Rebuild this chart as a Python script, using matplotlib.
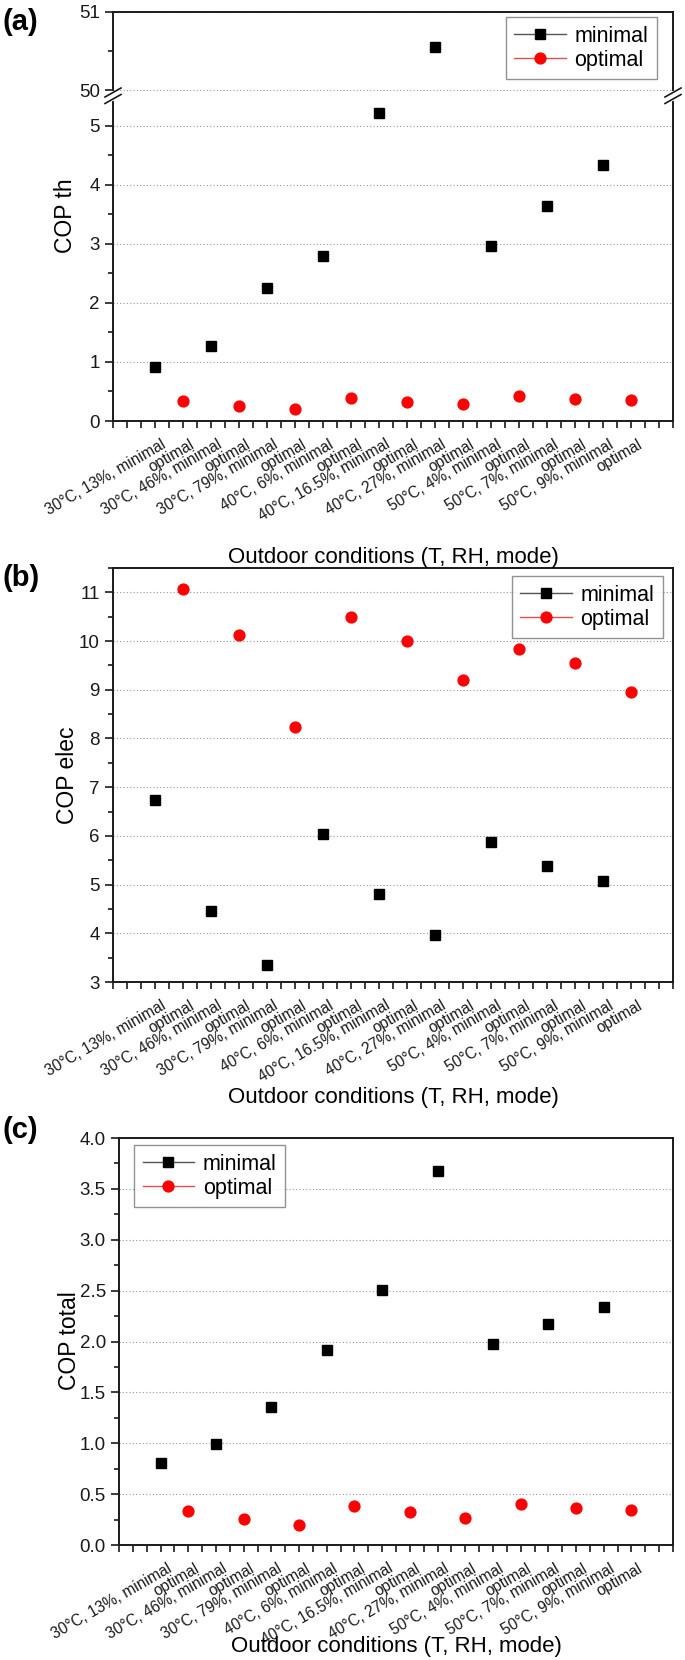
import numpy as np
import matplotlib
matplotlib.use("Agg")
import matplotlib.pyplot as plt
import matplotlib.transforms as mtransforms
from matplotlib.lines import Line2D
from matplotlib.ticker import MultipleLocator, FormatStrFormatter

plt.rcParams['font.family'] = ['Liberation Sans', 'DejaVu Sans']

# outdoor conditions, each one run in "minimal" and "optimal" mode
conditions = ['30°C, 13%', '30°C, 46%', '30°C, 79%',
              '40°C, 6%', '40°C, 16.5%', '40°C, 27%',
              '50°C, 4%', '50°C, 7%', '50°C, 9%']

cop_th_minimal = [0.92, 1.27, 2.26, 2.80, 5.21, 50.55, 2.97, 3.64, 4.33]
cop_th_optimal = [0.34, 0.26, 0.21, 0.39, 0.33, 0.28, 0.42, 0.37, 0.35]

cop_elec_minimal = [6.73, 4.45, 3.35, 6.04, 4.81, 3.97, 5.88, 5.38, 5.08]
cop_elec_optimal = [11.06, 10.12, 8.24, 10.49, 10.01, 9.21, 9.83, 9.55, 8.95]

cop_total_minimal = [0.81, 0.99, 1.36, 1.92, 2.51, 3.68, 1.98, 2.17, 2.34]
cop_total_optimal = [0.33, 0.26, 0.20, 0.38, 0.32, 0.27, 0.40, 0.36, 0.34]

tick_labels = []
for c in conditions:
    tick_labels += [c + ', minimal', 'optimal']

n = len(conditions)
x_min = np.arange(n) * 2 + 1
x_opt = np.arange(n) * 2 + 2
x_all = np.arange(1, 2 * n + 1)

W, H = 685, 1660
fig = plt.figure(figsize=(W / 100, H / 100), dpi=100)
shift = mtransforms.ScaledTranslation(6 / 100, -4 / 100, fig.dpi_scale_trans)


def box(left, top, right, bottom):
    return [left / W, 1 - bottom / H, (right - left) / W, (bottom - top) / H]


def style(ax, xlabels=True):
    for s in ax.spines.values():
        s.set_linewidth(1.4)
        s.set_color('#1a1a1a')
    ax.tick_params(axis='both', which='both', direction='out', top=False, right=False,
                   labelsize=13.5, colors='#1a1a1a')
    ax.tick_params(axis='y', which='major', length=6, width=1.2)
    ax.tick_params(axis='y', which='minor', length=3.5, width=1.2)
    ax.tick_params(axis='x', which='both', length=5, width=1.2)
    ax.set_xlim(-0.5, 2 * n + 1.5)
    ax.xaxis.set_minor_locator(MultipleLocator(0.5))
    ax.set_xticks(x_all)
    if xlabels:
        ax.set_xticklabels(tick_labels, rotation=30, ha='right', va='top',
                           rotation_mode='anchor', fontsize=11.2)
        for lab in ax.get_xticklabels():
            lab.set_transform(lab.get_transform() + shift)
    else:
        ax.set_xticklabels([])
    ax.grid(axis='y', which='major', linestyle=(0, (1, 2)), color='#999999', linewidth=0.8)
    ax.set_axisbelow(True)


def points(ax, ymin, yopt):
    ax.plot(x_min, ymin, linestyle='none', marker='s', color='black', markersize=6.8)
    ax.plot(x_opt, yopt, linestyle='none', marker='o', color='#ff0000', markersize=7.8)


def add_legend(ax, loc, anchor):
    handles = [Line2D([], [], color='#555555', lw=1, marker='s', markersize=6.8,
                      markerfacecolor='black', markeredgecolor='black'),
               Line2D([], [], color='#e05050', lw=1, marker='o', markersize=7.8,
                      markerfacecolor='#ff0000', markeredgecolor='#ff0000')]
    leg = ax.legend(handles, ['minimal', 'optimal'], loc=loc, bbox_to_anchor=anchor,
                    fontsize=15.5, frameon=True, fancybox=False, edgecolor='#777777',
                    handlelength=2.4, handletextpad=0.4, labelspacing=0.15,
                    borderpad=0.4, borderaxespad=0)
    leg.get_frame().set_linewidth(1.0)
    return leg


# ---------------- (a) COP th, broken y axis ----------------
ax_up = fig.add_axes(box(113, 12, 673, 94))
ax_lo = fig.add_axes(box(113, 97.5, 673, 421))
for ax in (ax_up, ax_lo):
    style(ax, xlabels=(ax is ax_lo))
    points(ax, cop_th_minimal, cop_th_optimal)
ax_up.set_ylim(49.95, 51)
ax_up.set_yticks([50, 51])
ax_up.yaxis.set_minor_locator(MultipleLocator(0.5))
ax_up.spines['bottom'].set_visible(False)
ax_up.tick_params(axis='x', which='both', bottom=False)
ax_lo.set_ylim(0, 5.48)
ax_lo.yaxis.set_major_locator(MultipleLocator(1))
ax_lo.yaxis.set_minor_locator(MultipleLocator(0.5))
ax_lo.spines['top'].set_visible(False)

# break marks on both sides
for xf in (113 / W, 673 / W):
    fig.add_artist(Line2D([xf, xf], [1 - 99 / H, 1 - 93 / H], color='white', lw=3))
    for yp in (92.5, 99):
        fig.add_artist(Line2D([xf - 8 / W, xf + 8 / W], [1 - (yp + 4.5) / H, 1 - (yp - 4.5) / H],
                              color='#1a1a1a', lw=1.2))

add_legend(ax_up, 'upper right', (1 - 16 / 560, 1 - 5 / 82))
fig.text(3 / W, 1 - 22 / H, '(a)', fontsize=21, fontweight='bold', va='center', ha='left')
fig.text(66 / W, 1 - 216 / H, 'COP th', fontsize=16.5, rotation=90, va='center', ha='center')
fig.text(393 / W, 1 - 557 / H, 'Outdoor conditions (T, RH, mode)', fontsize=16,
         va='center', ha='center')

# ---------------- (b) COP elec ----------------
ax_b = fig.add_axes(box(113, 568, 673, 982))
style(ax_b)
points(ax_b, cop_elec_minimal, cop_elec_optimal)
ax_b.set_ylim(3, 11.5)
ax_b.yaxis.set_major_locator(MultipleLocator(1))
ax_b.yaxis.set_minor_locator(MultipleLocator(0.5))
add_legend(ax_b, 'upper right', (1 - 10 / 560, 1 - 8 / 414))
fig.text(3 / W, 1 - 578 / H, '(b)', fontsize=21, fontweight='bold', va='center', ha='left')
fig.text(68 / W, 1 - 775 / H, 'COP elec', fontsize=16.5, rotation=90, va='center', ha='center')
fig.text(393 / W, 1 - 1097 / H, 'Outdoor conditions (T, RH, mode)', fontsize=16,
         va='center', ha='center')

# ---------------- (c) COP total ----------------
ax_c = fig.add_axes(box(119, 1138, 673, 1545))
style(ax_c)
points(ax_c, cop_total_minimal, cop_total_optimal)
ax_c.set_ylim(0, 4.0)
ax_c.yaxis.set_major_locator(MultipleLocator(0.5))
ax_c.yaxis.set_minor_locator(MultipleLocator(0.25))
ax_c.yaxis.set_major_formatter(FormatStrFormatter('%.1f'))
add_legend(ax_c, 'upper left', (15 / 554, 1 - 7 / 407))
fig.text(3 / W, 1 - 1130 / H, '(c)', fontsize=21, fontweight='bold', va='center', ha='left')
fig.text(70 / W, 1 - 1341 / H, 'COP total', fontsize=16.5, rotation=90, va='center', ha='center')
fig.text(396 / W, 1 - 1646 / H, 'Outdoor conditions (T, RH, mode)', fontsize=16,
         va='center', ha='center')

fig.savefig('out.png', dpi=100)
